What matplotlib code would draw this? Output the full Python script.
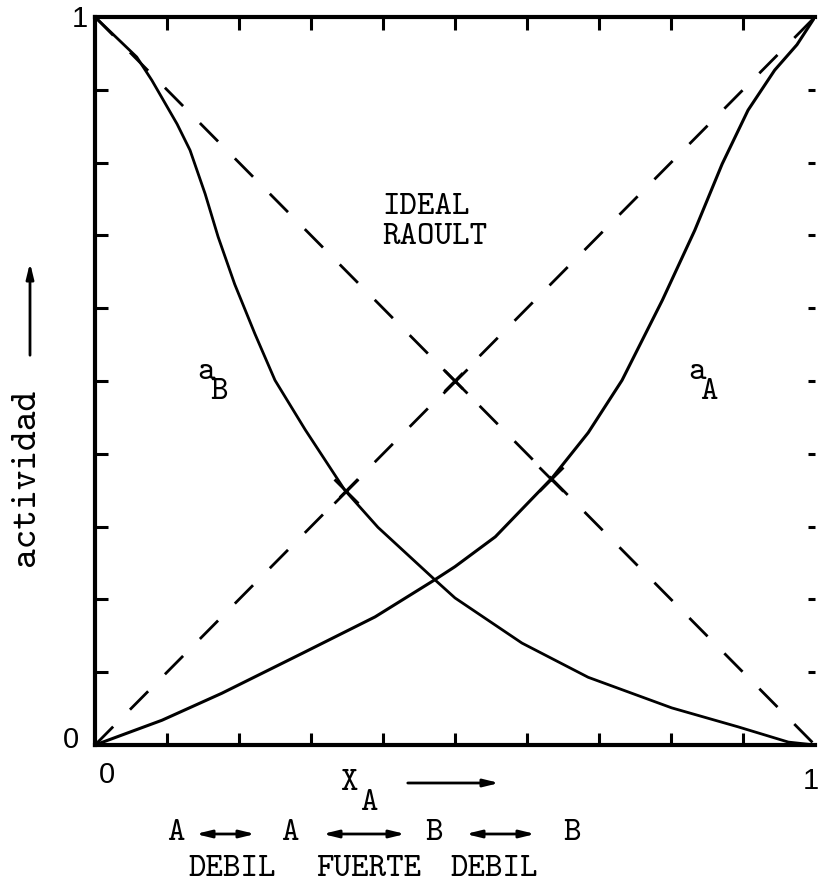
import numpy as np
import matplotlib.pyplot as plt

# actividad de A (x_A de 0 a 1), desviacion negativa de Raoult
xA = [0, 0.093, 0.176, 0.288, 0.389, 0.472, 0.5, 0.556, 0.635, 0.685, 0.732,
      0.788, 0.833, 0.871, 0.907, 0.944, 0.975, 1.0]
aA = [0, 0.034, 0.071, 0.126, 0.176, 0.227, 0.245, 0.286, 0.367, 0.429, 0.501,
      0.611, 0.707, 0.798, 0.872, 0.927, 0.962, 1.0]

# actividad de B
xB = [0, 0.058, 0.079, 0.114, 0.132, 0.153, 0.171, 0.194, 0.222, 0.25, 0.292,
      0.347, 0.393, 0.472, 0.5, 0.593, 0.685, 0.801, 0.893, 0.963, 1.0]
aB = [1, 0.945, 0.913, 0.853, 0.817, 0.757, 0.698, 0.633, 0.565, 0.501, 0.433,
      0.350, 0.299, 0.227, 0.202, 0.140, 0.093, 0.051, 0.025, 0.004, 0]

# rectas ideales (Raoult)
xIdeal = [0, 1]
aA_ideal = [0, 1]
aB_ideal = [1, 0]

ticks = np.round(np.arange(0.1, 1.0, 0.1), 1)

W, H = 819, 893
mono = 'cmtt10'          # letra de maquina de escribir que trae matplotlib
sans = 'Liberation Sans'
fs = 24


def fp(x, y):
    # pixeles de la figura (origen arriba a la izquierda) -> fraccion
    return (x / W, 1 - y / H)


def corte(x, y, xr, yr):
    # punto donde la curva cruza una recta ideal
    xs = np.linspace(0, 1, 2001)
    d = np.interp(xs, x, y) - np.interp(xs, xr, yr)
    i = np.where(np.diff(np.sign(d)) != 0)[0]
    i = i[(xs[i] > 0.05) & (xs[i] < 0.95)][0]
    x0 = xs[i] - d[i] * (xs[i + 1] - xs[i]) / (d[i + 1] - d[i])
    return x0, np.interp(x0, xr, yr)


fig = plt.figure(figsize=(W / 100, H / 100), dpi=100)
ax = fig.add_axes([95 / W, 1 - 745 / H, 720 / W, 728 / H])

ax.plot(xIdeal, aA_ideal, color='black', lw=2.0, dashes=(9.3, 8.6))
ax.plot(xIdeal, aB_ideal, color='black', lw=2.0, dashes=(9.3, 8.6))
ax.plot(xA, aA, color='black', lw=2.2, solid_joinstyle='round')
ax.plot(xB, aB, color='black', lw=2.0, solid_joinstyle='round')

# cruces marcadas con X
cruces = [corte(xB, aB, xIdeal, aA_ideal),
          corte(xA, aA, xIdeal, aB_ideal),
          (0.5, 0.5)]
for cx, cy in cruces:
    ax.plot(cx, cy, marker='x', color='black', ms=17, mew=2.0)

ax.set_xlim(0, 1)
ax.set_ylim(0, 1)
ax.set_xticks(ticks)
ax.set_yticks(ticks)
ax.set_xticklabels([])
ax.set_yticklabels([])
ax.tick_params(direction='in', length=9, width=2.2, top=True, right=True)
for t in ax.yaxis.get_major_ticks():
    t.tick2line.set_markersize(5)

ax.spines['right'].set_visible(False)
for s in ['left', 'top', 'bottom']:
    ax.spines[s].set_linewidth(3)

# textos dentro del grafico
ax.text(0.399, 0.738, 'IDEAL', fontsize=fs, family=mono, va='center', ha='left')
ax.text(0.399, 0.697, 'RAOULT', fontsize=fs, family=mono, va='center', ha='left')
ax.text(0.154, 0.511, 'a', fontsize=fs, family=mono, va='center', ha='center')
ax.text(0.172, 0.484, 'B', fontsize=fs, family=mono, va='center', ha='center')
ax.text(0.836, 0.511, 'a', fontsize=fs, family=mono, va='center', ha='center')
ax.text(0.853, 0.484, 'A', fontsize=fs, family=mono, va='center', ha='center')

# valores de los ejes
fig.text(*fp(80, 19), '1', fontsize=21, family=sans, ha='center', va='center')
fig.text(*fp(71, 740), '0', fontsize=21, family=sans, ha='center', va='center')
fig.text(*fp(107, 775), '0', fontsize=21, family=sans, ha='center', va='center')
fig.text(*fp(811, 781), '1', fontsize=21, family=sans, ha='center', va='center')

# titulo del eje y con flecha
fig.text(*fp(27, 477), 'actividad', fontsize=27, family=mono, rotation=90,
         ha='center', va='center')
flecha = dict(arrowstyle='-|>,head_length=0.9,head_width=0.22', color='black', lw=2)
ax.annotate('', xy=fp(30, 260), xytext=fp(30, 358), xycoords='figure fraction',
            textcoords='figure fraction', arrowprops=flecha)

# eje x
fig.text(*fp(349, 783), 'X', fontsize=fs, family=mono, ha='center', va='center')
fig.text(*fp(369, 803), 'A', fontsize=fs, family=mono, ha='center', va='center')
ax.annotate('', xy=fp(502, 783), xytext=fp(405, 783), xycoords='figure fraction',
            textcoords='figure fraction', arrowprops=flecha)

# interacciones A-A, A-B, B-B
doble = dict(arrowstyle='<|-|>,head_length=0.9,head_width=0.22', color='black', lw=2)
for lx, lab in [(176, 'A'), (290, 'A'), (434, 'B'), (572, 'B')]:
    fig.text(*fp(lx, 834), lab, fontsize=fs, family=mono, ha='center', va='center')
for x0, x1 in [(193, 258), (320, 408), (463, 538)]:
    ax.annotate('', xy=fp(x1, 834), xytext=fp(x0, 834), xycoords='figure fraction',
                textcoords='figure fraction', arrowprops=doble)
for lx, lab in [(232, 'DEBIL'), (369, 'FUERTE'), (494, 'DEBIL')]:
    fig.text(*fp(lx, 870), lab, fontsize=fs, family=mono, ha='center', va='center')

fig.savefig('out.png', dpi=100)
